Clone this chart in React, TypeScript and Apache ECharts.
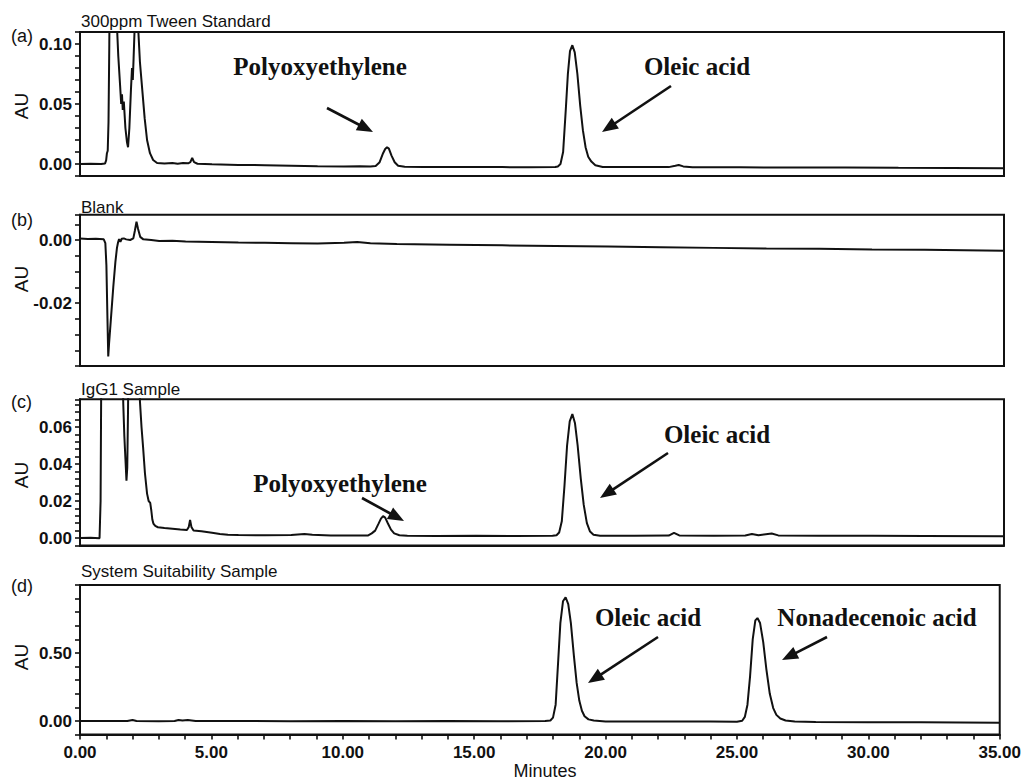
import React, { useEffect, useRef } from 'react';
import * as echarts from 'echarts';

// ---------------- data (minutes, AU) ----------------
const tweenStandard: [number, number][] = [
  [0.0, 0.0], [0.4, 0.0003], [0.8, 0.0], [0.95, 0.0005], [0.99, 0.003], [1.02, 0.009], [1.05, 0.011],
  [1.08, 0.035], [1.11, 0.1], [1.16, 0.25], [1.25, 0.3], [1.35, 0.2], [1.4, 0.115], [1.45, 0.09],
  [1.52, 0.065], [1.56, 0.05], [1.59, 0.058], [1.62, 0.045], [1.66, 0.052], [1.72, 0.03], [1.78, 0.018],
  [1.82, 0.014], [1.87, 0.03], [1.93, 0.062], [1.97, 0.08], [2.0, 0.07], [2.03, 0.088], [2.08, 0.12],
  [2.14, 0.25], [2.2, 0.115], [2.27, 0.085], [2.35, 0.064], [2.45, 0.038], [2.54, 0.02], [2.65, 0.009],
  [2.77, 0.0033], [2.92, 0.0008], [3.2, 0.0004], [3.5, 0.0009], [3.7, 0.0003], [3.9, 0.0008], [4.1, 0.0006],
  [4.18, 0.0015], [4.25, 0.005], [4.32, 0.0015], [4.45, 0.0002], [5.0, -0.0002], [6.0, -0.0008], [7.0, -0.001],
  [8.0, -0.0014], [9.0, -0.0018], [10.0, -0.002], [10.6, -0.0019], [11.0, -0.002], [11.2, -0.0016],
  [11.35, 0.0015], [11.48, 0.009], [11.56, 0.0125], [11.63, 0.014], [11.7, 0.0128], [11.8, 0.007],
  [11.92, 0.0015], [12.05, -0.0015], [12.3, -0.0023], [13.0, -0.0025], [14.0, -0.0024], [15.0, -0.0026],
  [16.0, -0.0026], [17.0, -0.0027], [18.0, -0.0025], [18.1, -0.002], [18.2, 0.0], [18.3, 0.01],
  [18.4, 0.045], [18.48, 0.075], [18.56, 0.094], [18.65, 0.099], [18.74, 0.093], [18.84, 0.075],
  [18.95, 0.048], [19.05, 0.028], [19.15, 0.014], [19.25, 0.006], [19.37, 0.002], [19.52, -0.001],
  [19.8, -0.0025], [21.0, -0.0026], [22.3, -0.0026], [22.55, -0.0015], [22.68, -0.0008], [22.85, -0.002],
  [23.2, -0.0027], [25.0, -0.0028], [27.0, -0.003], [29.0, -0.003], [31.0, -0.0032], [33.0, -0.0033],
  [35.0, -0.0035],
];

const blank: [number, number][] = [
  [0.0, 0.0005], [0.3, 0.0003], [0.6, 0.0004], [0.9, 0.0002], [0.96, -0.001], [1.0, -0.008], [1.04, -0.025],
  [1.07, -0.037], [1.1, -0.033], [1.18, -0.024], [1.26, -0.015], [1.34, -0.007], [1.4, -0.0025],
  [1.44, -0.0008], [1.48, 0.0003], [1.53, -0.0006], [1.58, 0.0004], [1.66, 0.0005], [1.75, 0.0002],
  [1.9, 0.0], [2.02, 0.0005], [2.08, 0.003], [2.14, 0.0058], [2.2, 0.0035], [2.28, 0.001], [2.4, 0.0002],
  [2.7, 0.0], [3.0, -0.0003], [3.5, -0.0002], [4.0, -0.0005], [5.0, -0.0006], [6.0, -0.0008], [7.0, -0.0009],
  [8.0, -0.001], [9.0, -0.0011], [10.0, -0.0009], [10.5, -0.0006], [11.0, -0.001], [12.0, -0.0013],
  [14.0, -0.0015], [16.0, -0.0017], [18.0, -0.0019], [20.0, -0.0021], [22.0, -0.0023], [24.0, -0.0025],
  [26.0, -0.0027], [28.0, -0.0028], [30.0, -0.003], [32.0, -0.0031], [35.0, -0.0034],
];

const igg1Sample: [number, number][] = [
  [0.0, 0.0], [0.4, 0.0001], [0.74, -0.0001], [0.78, 0.02], [0.81, 0.1], [0.9, 0.25], [1.2, 0.3],
  [1.5, 0.2], [1.6, 0.1], [1.64, 0.072], [1.68, 0.055], [1.72, 0.043], [1.76, 0.031], [1.79, 0.038],
  [1.82, 0.07], [1.86, 0.15], [2.0, 0.25], [2.22, 0.12], [2.27, 0.074], [2.33, 0.06], [2.39, 0.049],
  [2.46, 0.035], [2.54, 0.024], [2.6, 0.02], [2.66, 0.019], [2.7, 0.015], [2.74, 0.01], [2.78, 0.0078],
  [2.85, 0.0065], [2.95, 0.0058], [3.2, 0.0054], [3.5, 0.005], [3.8, 0.0046], [4.05, 0.0043], [4.12, 0.006],
  [4.17, 0.0097], [4.22, 0.006], [4.3, 0.004], [4.6, 0.0036], [5.0, 0.0028], [5.3, 0.0022], [5.6, 0.0017],
  [6.0, 0.0016], [7.0, 0.0015], [8.0, 0.0016], [8.5, 0.0021], [8.8, 0.0017], [9.5, 0.0014], [10.5, 0.0013],
  [10.9, 0.0013], [11.05, 0.0025], [11.18, 0.004], [11.3, 0.0075], [11.4, 0.0105], [11.48, 0.0118],
  [11.56, 0.011], [11.66, 0.008], [11.78, 0.0045], [11.9, 0.0025], [12.1, 0.0015], [12.4, 0.0012],
  [13.5, 0.0011], [15.0, 0.0012], [16.5, 0.0011], [17.9, 0.0012], [18.05, 0.0015], [18.15, 0.003],
  [18.25, 0.009], [18.35, 0.028], [18.45, 0.05], [18.55, 0.063], [18.65, 0.067], [18.75, 0.062],
  [18.85, 0.05], [18.97, 0.032], [19.08, 0.018], [19.2, 0.008], [19.32, 0.0035], [19.45, 0.0018],
  [19.7, 0.0012], [21.0, 0.0012], [22.3, 0.0013], [22.5, 0.0028], [22.7, 0.0014], [24.0, 0.0012],
  [25.2, 0.0014], [25.45, 0.0022], [25.7, 0.0015], [26.2, 0.0024], [26.45, 0.0014], [28.0, 0.0012],
  [30.0, 0.0012], [32.0, 0.0011], [35.0, 0.001],
];

const suitabilitySample: [number, number][] = [
  [0.0, 0.0], [1.0, 0.0], [1.8, 0.0], [2.0, 0.008], [2.15, 0.0], [3.0, -0.002], [3.6, 0.0], [3.75, 0.008],
  [3.9, 0.004], [4.1, 0.007], [4.4, 0.0], [6.0, 0.0], [8.0, -0.002], [10.0, 0.0], [12.0, -0.002], [14.0, 0.0],
  [16.0, -0.002], [17.7, 0.0], [17.9, 0.004], [18.0, 0.025], [18.1, 0.12], [18.2, 0.45], [18.28, 0.72],
  [18.38, 0.88], [18.48, 0.91], [18.58, 0.86], [18.68, 0.72], [18.8, 0.47], [18.9, 0.28], [19.0, 0.15],
  [19.1, 0.075], [19.2, 0.035], [19.35, 0.012], [19.55, 0.003], [20.0, -0.003], [22.0, -0.003],
  [24.0, -0.004], [25.0, -0.005], [25.2, 0.002], [25.3, 0.03], [25.4, 0.12], [25.5, 0.33], [25.6, 0.6],
  [25.7, 0.74], [25.78, 0.757], [25.88, 0.72], [26.0, 0.58], [26.12, 0.38], [26.25, 0.2], [26.38, 0.095],
  [26.5, 0.045], [26.65, 0.018], [26.85, 0.004], [27.2, -0.004], [28.0, -0.008], [30.0, -0.01],
  [32.0, -0.01], [35.0, -0.012],
];

// ---------------- tick labels ----------------
const xTickLabels = [0, 5, 10, 15, 20, 25, 30, 35];
const aTickLabels = [0, 0.05, 0.1];
const bTickLabels = [0, -0.02];
const cTickLabels = [0, 0.02, 0.04, 0.06];
const dTickLabels = [0, 0.5];

const panelTitles = ['300ppm Tween Standard', 'Blank', 'IgG1 Sample', 'System Suitability Sample'];
const panelLetters = ['(a)', '(b)', '(c)', '(d)'];
const yAxisName = 'AU';
const xAxisName = 'Minutes';

// ---------------- layout ----------------
const GRID_LEFT = 80;
const GRID_WIDTH = 924;
const INK = '#111111';

const panels = [
  { top: 32, height: 144, min: -0.01, max: 0.11, step: 0.01, labels: aTickLabels, data: tweenStandard, titleY: 21, letterY: 36, auY: 106 },
  { top: 214.8, height: 151.2, min: -0.04, max: 0.008, step: 0.005, labels: bTickLabels, data: blank, titleY: 207, letterY: 220, auY: 279 },
  { top: 399.25, height: 146.15, min: -0.004, max: 0.075, step: 0.004, labels: cTickLabels, data: igg1Sample, titleY: 389, letterY: 402, auY: 475 },
  { top: 585, height: 149.6, min: -0.1, max: 1.0, step: 0.1, labels: dTickLabels, data: suitabilitySample, titleY: 571, letterY: 586, auY: 657 },
];

const fmt = (v: number) => (Math.abs(v) < 1e-9 ? '0.00' : v.toFixed(2));

function arrow(x1: number, y1: number, x2: number, y2: number) {
  const dx = x2 - x1;
  const dy = y2 - y1;
  const len = Math.hypot(dx, dy);
  const ux = dx / len;
  const uy = dy / len;
  const hl = 16;
  const hw = 6.5;
  const bx = x2 - ux * hl;
  const by = y2 - uy * hl;
  return [
    { type: 'line', shape: { x1, y1, x2: bx + ux * 3, y2: by + uy * 3 }, style: { stroke: INK, lineWidth: 2.6 } },
    {
      type: 'polygon',
      shape: { points: [[x2, y2], [bx - uy * hw, by + ux * hw], [bx + uy * hw, by - ux * hw]] },
      style: { fill: INK },
    },
  ];
}

function annotation(text: string, x: number, y: number) {
  return {
    type: 'text',
    x,
    y,
    style: {
      text,
      fill: INK,
      fontFamily: '"Liberation Serif", "Times New Roman", serif',
      fontWeight: 'bold',
      fontSize: 25,
      align: 'center',
      verticalAlign: 'middle',
    },
  };
}

export default function App() {
  const ref = useRef<HTMLDivElement>(null);

  useEffect(() => {
    if (!ref.current) return;
    const chart = echarts.init(ref.current, null, { renderer: 'svg' });

    const grids = panels.map((p) => ({
      left: GRID_LEFT,
      top: p.top,
      width: GRID_WIDTH,
      height: p.height,
      show: true,
      borderColor: INK,
      borderWidth: 2,
      backgroundColor: 'transparent',
      containLabel: false,
    }));

    const xAxes = panels.map((p, i) => {
      const last = i === panels.length - 1;
      return {
        type: 'value',
        gridIndex: i,
        min: 0,
        max: 35,
        interval: 1,
        position: 'bottom',
        axisLine: { show: true, onZero: false, lineStyle: { color: INK, width: 2 } },
        axisTick: { show: last, length: 5, lineStyle: { color: INK, width: 1.6 } },
        splitLine: { show: false },
        axisLabel: {
          show: last,
          margin: 9,
          color: INK,
          fontFamily: '"Liberation Sans", Arial, sans-serif',
          fontWeight: 'bold',
          fontSize: 17,
          formatter: (v: number) => (xTickLabels.some((t) => Math.abs(t - v) < 1e-6) ? v.toFixed(2) : ''),
        },
      };
    });

    const yAxes = panels.map((p, i) => ({
      type: 'value',
      gridIndex: i,
      min: p.min,
      max: p.max,
      interval: p.step,
      position: 'left',
      axisLine: { show: true, onZero: false, lineStyle: { color: INK, width: 2 } },
      axisTick: { show: true, length: 5, lineStyle: { color: INK, width: 1.6 } },
      splitLine: { show: false },
      axisLabel: {
        margin: 8,
        color: INK,
        fontFamily: '"Liberation Sans", Arial, sans-serif',
        fontWeight: 'bold',
        fontSize: 17,
        formatter: (v: number) => (p.labels.some((t) => Math.abs(t - v) < p.step / 100) ? fmt(v) : ''),
      },
    }));

    const series = panels.map((p, i) => ({
      type: 'line',
      xAxisIndex: i,
      yAxisIndex: i,
      data: p.data,
      showSymbol: false,
      symbol: 'none',
      clip: true,
      lineStyle: { color: INK, width: 2 },
      silent: true,
    }));

    const sansFont = '"Liberation Sans", Arial, sans-serif';
    const graphics: any[] = [];
    panels.forEach((p, i) => {
      graphics.push({
        type: 'text',
        x: 81,
        y: p.titleY,
        style: { text: panelTitles[i], fill: INK, fontFamily: sansFont, fontSize: 17, align: 'left', verticalAlign: 'middle' },
      });
      graphics.push({
        type: 'text',
        x: 11,
        y: p.letterY,
        style: { text: panelLetters[i], fill: INK, fontFamily: sansFont, fontSize: 18, align: 'left', verticalAlign: 'middle' },
      });
      graphics.push({
        type: 'text',
        x: 21,
        y: p.auY,
        rotation: Math.PI / 2,
        style: { text: yAxisName, fill: INK, fontFamily: sansFont, fontSize: 19, align: 'center', verticalAlign: 'middle' },
      });
    });
    graphics.push({
      type: 'text',
      x: 545,
      y: 771,
      style: { text: xAxisName, fill: INK, fontFamily: sansFont, fontSize: 18, align: 'center', verticalAlign: 'middle' },
    });

    graphics.push(annotation('Polyoxyethylene', 320, 66));
    graphics.push(...arrow(327, 108, 373, 132));
    graphics.push(annotation('Oleic acid', 697, 66));
    graphics.push(...arrow(671, 86, 602, 132));

    graphics.push(annotation('Polyoxyethylene', 340, 483));
    graphics.push(...arrow(362, 498, 404, 521));
    graphics.push(annotation('Oleic acid', 717, 434));
    graphics.push(...arrow(668, 453, 600, 498));

    graphics.push(annotation('Oleic acid', 648, 617));
    graphics.push(...arrow(658, 637, 588, 683));
    graphics.push(annotation('Nonadecenoic acid', 877, 617));
    graphics.push(...arrow(827, 637, 782, 660));

    chart.setOption({
      animation: false,
      backgroundColor: '#ffffff',
      grid: grids,
      xAxis: xAxes,
      yAxis: yAxes,
      series,
      graphic: { elements: graphics },
    });

    return () => chart.dispose();
  }, []);

  return (
    <div
      ref={ref}
      style={{ position: 'absolute', left: 0, top: 0, width: 1024, height: 780, background: '#fff' }}
    />
  );
}
